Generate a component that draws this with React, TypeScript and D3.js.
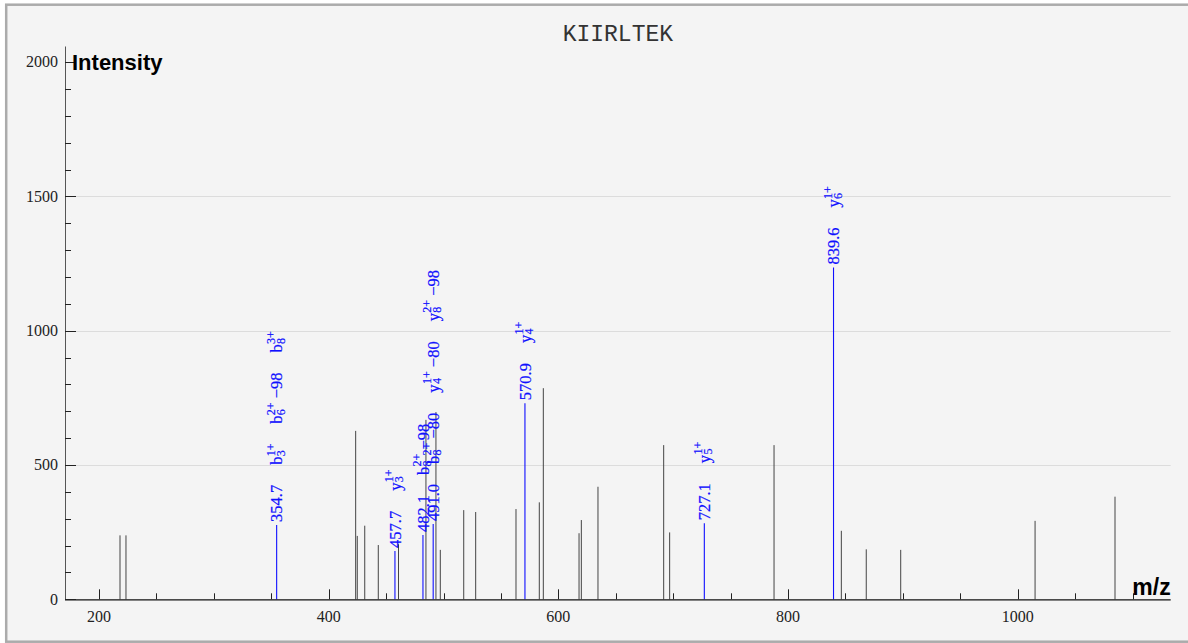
import React from "react";
import * as d3 from "d3";

const TITLE = "KIIRLTEK";
const Y_LABEL = "Intensity";
const X_LABEL = "m/z";

// unannotated peaks
const grayMz = [218.3, 223.5, 423.5, 424.9, 431.4, 443.2, 460.8, 484.7, 493.4, 497.2, 517.6, 528.0, 563.1, 583.4, 586.9, 618.0, 620.0, 634.5, 691.7, 696.9, 787.8, 846.4, 868.1, 898.1, 1015.1, 1084.7];
const grayInt = [238, 238, 627, 236, 274, 202, 205, 668, 697, 184, 332, 325, 336, 361, 786, 246, 295, 419, 574, 249, 574, 255, 186, 184, 292, 382];

// annotated peaks
const annMz = [354.7, 457.7, 482.1, 491.0, 570.9, 727.1, 839.6];
const annInt = [277, 180, 239, 280, 730, 283, 1235];
// ion annotations: [ion letter, position, charge, neutral loss]
const annIons: [string, string, string, string][][] = [
  [["b", "3", "1+", ""], ["b", "6", "2+", "−98"], ["b", "8", "3+", ""]],
  [["y", "3", "1+", ""]],
  [["b", "8", "2+", "−98"]],
  [["b", "8", "2+", "−80"], ["y", "4", "1+", "−80"], ["y", "8", "2+", "−98"]],
  [["y", "4", "1+", ""]],
  [["y", "5", "1+", ""]],
  [["y", "6", "1+", ""]],
];

const xDomain = [170.4, 1133.2];
const yDomain = [0, 2058];
const xMajorTicks = [200, 400, 600, 800, 1000];
const yMajorTicks = [0, 500, 1000, 1500, 2000];
const yGrid = [500, 1000, 1500];

const W = 1188;
const H = 643;
const L = 65, R = 1170.7, T = 46.5, B = 599.3;

const FS = 16.5;
const SS = 12;
const SERIF = "'Liberation Serif', 'Times New Roman', serif";
const SANS = "'Liberation Sans', Arial, sans-serif";
const BLUE = "#1010ff";

function tw(s: string, size: number) {
  let w = 0;
  for (const c of s) {
    if (c >= "0" && c <= "9") w += 0.5;
    else if (c === ".") w += 0.25;
    else if (c === " ") w += 0.25;
    else if (c === "−" || c === "+") w += 0.564;
    else w += 0.5;
  }
  return w * size;
}

export default function App() {
  const x = d3.scaleLinear().domain(xDomain).range([L, R]);
  const y = d3.scaleLinear().domain(yDomain).range([B, T]);

  const xMinor = d3.range(200, 1133, 50).filter((v) => !xMajorTicks.includes(v));
  const yMinor = d3.range(0, 2001, 100).filter((v) => !yMajorTicks.includes(v));

  const base = 5.6;
  const gap = 20;
  const blueText = { fontFamily: SERIF, fill: BLUE, stroke: BLUE, strokeWidth: 0.2 };

  return (
    <svg width={W} height={H} style={{ position: "absolute", left: 0, top: 0, background: "#fff" }}>
      <rect x={6.2} y={4.7} width={1300} height={637} fill="#f4f4f4" stroke="#ababab" strokeWidth={2.5} />
      <text x={(L + R) / 2} y={41} textAnchor="middle" fontFamily="'Liberation Mono', 'Courier New', monospace" fontSize={23} fill="#333">
        {TITLE}
      </text>

      {/* grid */}
      {yGrid.map((v) => (
        <line key={"g" + v} x1={L + 11} x2={R} y1={Math.round(y(v)) + 0.5} y2={Math.round(y(v)) + 0.5} stroke="#dcdcdc" strokeWidth={1} />
      ))}

      {/* gray peaks */}
      {grayMz.map((m, i) => (
        <line key={"p" + i} x1={x(m)} x2={x(m)} y1={B} y2={y(grayInt[i])} stroke="#444" strokeWidth={1} />
      ))}

      {/* annotated peaks */}
      {annMz.map((m, i) => (
        <line key={"a" + i} x1={x(m)} x2={x(m)} y1={B} y2={y(annInt[i])} stroke={BLUE} strokeWidth={1.1} />
      ))}

      {/* axes */}
      <line x1={L + 0.5} x2={L + 0.5} y1={T} y2={B} stroke="#555" strokeWidth={1} />
      <line x1={L} x2={R} y1={B + 0.5} y2={B + 0.5} stroke="#111" strokeWidth={1.2} />

      {yMajorTicks.map((v) => (
        <g key={"ym" + v}>
          <line x1={L} x2={L + 11} y1={Math.round(y(v)) + 0.5} y2={Math.round(y(v)) + 0.5} stroke="#222" strokeWidth={1} />
          <text x={L - 7} y={y(v) + 5.4} textAnchor="end" fontFamily={SERIF} fontSize={16} fill="#222">
            {v}
          </text>
        </g>
      ))}
      {yMinor.map((v) => (
        <line key={"yn" + v} x1={L} x2={L + 6} y1={Math.round(y(v)) + 0.5} y2={Math.round(y(v)) + 0.5} stroke="#222" strokeWidth={1} />
      ))}
      {xMajorTicks.map((v) => (
        <g key={"xm" + v}>
          <line x1={Math.round(x(v)) + 0.5} x2={Math.round(x(v)) + 0.5} y1={B} y2={B - 10} stroke="#222" strokeWidth={1} />
          <text x={x(v)} y={621.5} textAnchor="middle" fontFamily={SERIF} fontSize={16} fill="#222">
            {v}
          </text>
        </g>
      ))}
      {xMinor.map((v) => (
        <line key={"xn" + v} x1={Math.round(x(v)) + 0.5} x2={Math.round(x(v)) + 0.5} y1={B} y2={B - 6} stroke="#222" strokeWidth={1} />
      ))}

      <text x={72} y={69.5} fontFamily={SANS} fontWeight="bold" fontSize={22} fill="#000">
        {Y_LABEL}
      </text>
      <text x={R} y={594.5} textAnchor="end" fontFamily={SANS} fontWeight="bold" fontSize={23} fill="#000">
        {X_LABEL}
      </text>

      {/* annotations */}
      {annMz.map((m, i) => {
        const px = x(m);
        const py = y(annInt[i]);
        const valStr = m.toFixed(1);
        let off = 3;
        const parts: React.ReactNode[] = [];
        parts.push(
          <text key="v" x={off} y={base} fontSize={FS} {...blueText}>
            {valStr}
          </text>
        );
        off += tw(valStr, FS) + gap;
        annIons[i].forEach(([ion, pos, charge, loss], k) => {
          const o = off;
          const mainW = tw(ion, FS);
          const scrW = Math.max(tw(charge, SS), tw(pos, SS));
          parts.push(
            <g key={"i" + k}>
              <text x={o} y={base} fontSize={FS} {...blueText}>{ion}</text>
              <text x={o + mainW + 0.3} y={base - 7.5} fontSize={SS} {...blueText}>{charge}</text>
              <text x={o + mainW + 0.3} y={base + 2.5} fontSize={SS} {...blueText}>{pos}</text>
              {loss && (
                <text x={o + mainW + scrW + 4.5} y={base} fontSize={FS} {...blueText}>{loss}</text>
              )}
            </g>
          );
          let len = mainW + scrW;
          if (loss) len += 4.5 + tw(loss, FS);
          off += len + gap;
        });
        return (
          <g key={"lab" + i} transform={`translate(${px},${py}) rotate(-90)`}>
            {parts}
          </g>
        );
      })}
    </svg>
  );
}
